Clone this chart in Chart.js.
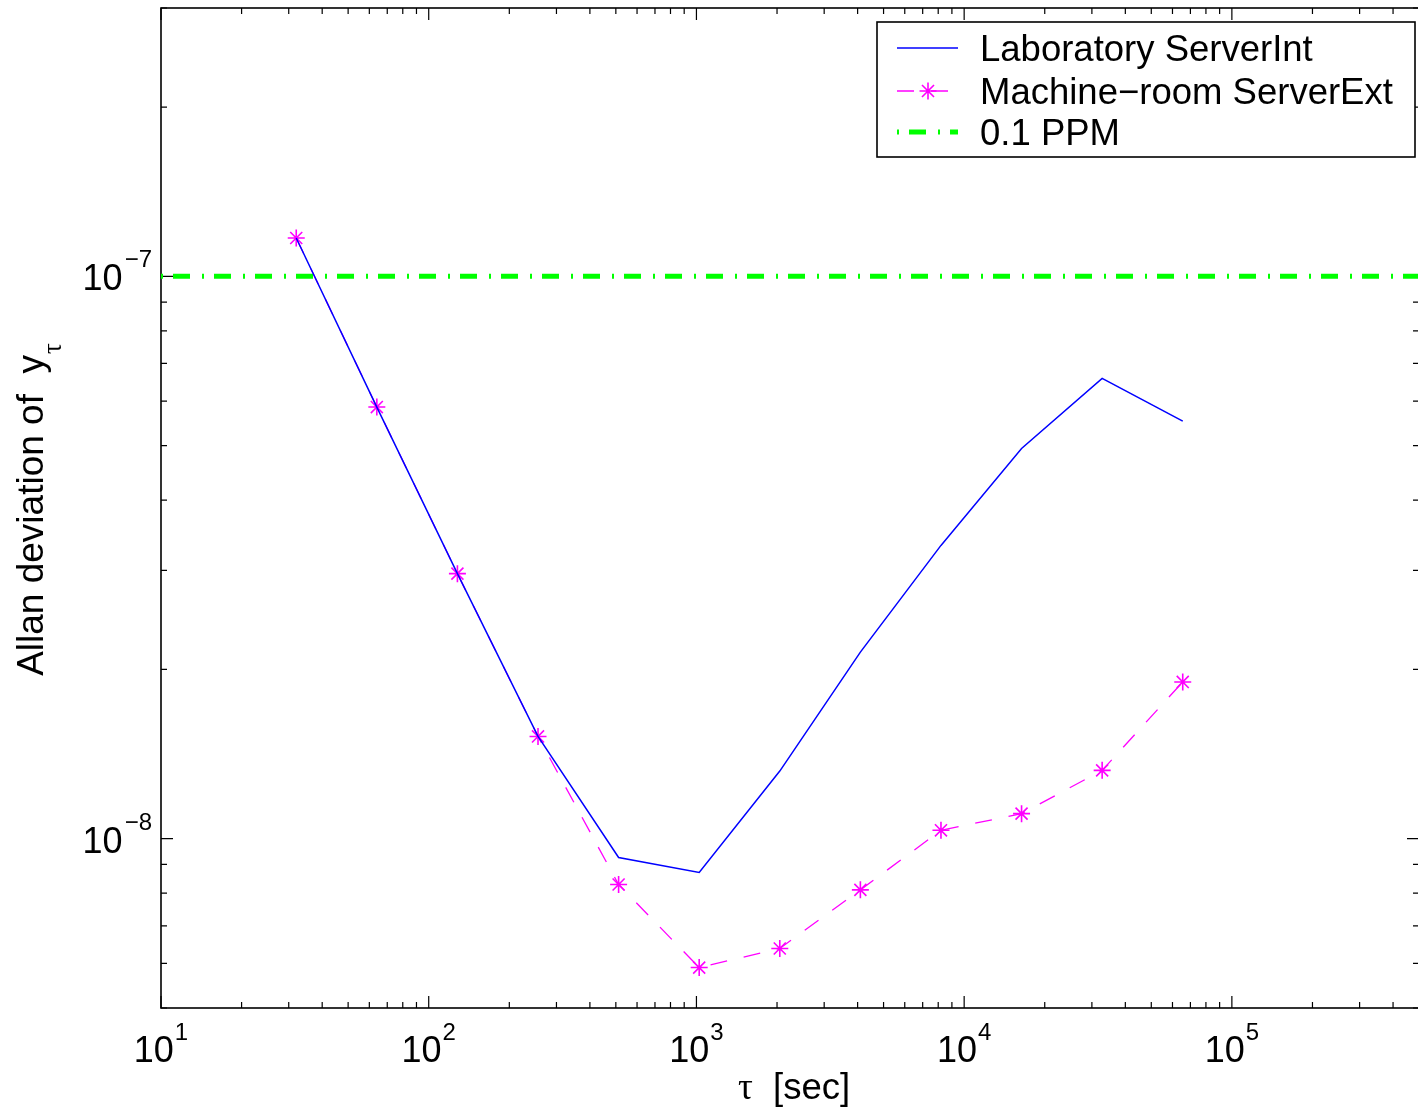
<!DOCTYPE html>
<html>
<head>
<meta charset="utf-8">
<script src="https://cdn.jsdelivr.net/npm/chart.js@4.4.0/dist/chart.umd.min.js"></script>
<style>
html,body{margin:0;padding:0;overflow:hidden;background:#fff;}
#wrap{width:1421px;height:1112px;}
</style>
</head>
<body>
<div id="wrap"><canvas id="c" width="1421" height="1112"></canvas></div>
<script>
// ---- data ----
const tau = [32, 64, 128, 256, 512, 1024, 2048, 4096, 8192, 16384, 32768, 65536];
const labServerInt = [1.170e-7, 5.855e-8, 2.960e-8, 1.520e-8, 9.26e-9, 8.71e-9, 1.319e-8, 2.147e-8, 3.323e-8, 4.943e-8, 6.585e-8, 5.529e-8];
const machineRoomServerExt = [1.170e-7, 5.855e-8, 2.960e-8, 1.520e-8, 8.29e-9, 5.90e-9, 6.38e-9, 8.11e-9, 1.035e-8, 1.108e-8, 1.323e-8, 1.900e-8];
const ppmTau = [10, 5e5];
const ppmLevel = [1e-7, 1e-7];
const seriesNames = ['Laboratory ServerInt', 'Machine\u2212room ServerExt', '0.1 PPM'];
const xRange = [10, 5e5];
const yRange = [5e-9, 3e-7];
const xTickExponents = [1, 2, 3, 4, 5];
const yTickExponents = [-8, -7];
const xTitleSymbol = '\u03C4';
const xTitleText = '  [sec]';
const yTitleText = 'Allan deviation of  y';
const yTitleSub = '\u03C4';

const SANS = '"Liberation Sans", Arial, Helvetica, sans-serif';
const SERIF = '"Liberation Serif", "Times New Roman", serif';

function minorTickValues(min, max) {
  const out = [];
  for (let d = Math.floor(Math.log10(min)); d <= Math.ceil(Math.log10(max)); d++) {
    for (let m = 1; m <= 9; m++) {
      const v = m * Math.pow(10, d);
      if (v >= min * 0.9999 && v <= max * 1.0001) out.push({v, major: m === 1});
    }
  }
  return out;
}

function expStr(e) { return e < 0 ? '\u2212' + Math.abs(e) : String(e); }

const matlabAxes = {
  id: 'matlabAxes',
  beforeDatasetsDraw(chart) {
    const {ctx, chartArea: a, scales: {x, y}} = chart;
    ctx.save();
    ctx.strokeStyle = '#000';
    ctx.lineWidth = 1.6;
    ctx.strokeRect(a.left, a.top, a.right - a.left, a.bottom - a.top);
    ctx.lineWidth = 1.2;
    ctx.beginPath();
    minorTickValues(x.min, x.max).forEach(t => {
      const px = x.getPixelForValue(t.v);
      const len = t.major ? 12 : 6;
      ctx.moveTo(px, a.bottom); ctx.lineTo(px, a.bottom - len);
      ctx.moveTo(px, a.top); ctx.lineTo(px, a.top + len);
    });
    minorTickValues(y.min, y.max).forEach(t => {
      const py = y.getPixelForValue(t.v);
      const len = t.major ? 12 : 6;
      ctx.moveTo(a.left, py); ctx.lineTo(a.left + len, py);
      ctx.moveTo(a.right, py); ctx.lineTo(a.right - len, py);
    });
    ctx.stroke();
    ctx.restore();
  },
  afterDraw(chart) {
    const {ctx, chartArea: a, scales: {x, y}} = chart;
    ctx.save();
    ctx.fillStyle = '#000';
    ctx.textBaseline = 'alphabetic';
    const baseFont = '36px ' + SANS;
    const supFont = '24px ' + SANS;
    // x tick labels
    xTickExponents.forEach(e => {
      const px = x.getPixelForValue(Math.pow(10, e));
      ctx.font = baseFont; const wb = ctx.measureText('10').width;
      ctx.font = supFont; const we = ctx.measureText(expStr(e)).width;
      const left = px - (wb + 1 + we) / 2;
      ctx.textAlign = 'left';
      ctx.font = baseFont; ctx.fillText('10', left, a.bottom + 54);
      ctx.font = supFont; ctx.fillText(expStr(e), left + wb + 1, a.bottom + 32);
    });
    // y tick labels
    yTickExponents.forEach(e => {
      const py = y.getPixelForValue(Math.pow(10, e));
      const right = a.left - 9;
      ctx.textAlign = 'right';
      ctx.font = supFont; const we = ctx.measureText(expStr(e)).width;
      ctx.fillText(expStr(e), right, py - 9);
      ctx.font = baseFont; ctx.fillText('10', right - we - 2, py + 14);
    });
    // x title
    ctx.textAlign = 'left';
    ctx.font = '37px ' + SERIF; const wt = ctx.measureText(xTitleSymbol).width;
    ctx.font = '36.5px ' + SANS; const ws = ctx.measureText(xTitleText).width;
    const cx = (a.left + a.right) / 2 + 4;
    let sx = cx - (wt + ws) / 2;
    ctx.font = '37px ' + SERIF; ctx.fillText(xTitleSymbol, sx, 1099);
    ctx.font = '36.5px ' + SANS; ctx.fillText(xTitleText, sx + wt, 1099);
    // y title (rotated)
    ctx.save();
    ctx.translate(43, 510);
    ctx.rotate(-Math.PI / 2);
    ctx.font = '37px ' + SANS; const w1 = ctx.measureText(yTitleText).width;
    ctx.font = '27px ' + SERIF; const w2 = ctx.measureText(yTitleSub).width;
    const st = -(w1 + w2) / 2;
    ctx.font = '37px ' + SANS; ctx.fillText(yTitleText, st, 0);
    ctx.font = '27px ' + SERIF; ctx.fillText(yTitleSub, st + w1 + 1, 18);
    ctx.restore();

    // legend
    const lx0 = 877, ly0 = 22, lx1 = 1415, ly1 = 157;
    ctx.fillStyle = '#fff';
    ctx.fillRect(lx0, ly0, lx1 - lx0, ly1 - ly0);
    ctx.strokeStyle = '#000'; ctx.lineWidth = 1.6;
    ctx.strokeRect(lx0, ly0, lx1 - lx0, ly1 - ly0);
    const rows = [48, 91, 132];
    chart.data.datasets.forEach((ds, i) => {
      const ry = rows[i];
      ctx.save();
      ctx.strokeStyle = ds.borderColor;
      ctx.lineWidth = ds.borderWidth;
      ctx.lineCap = 'butt';
      ctx.setLineDash(ds.borderDash || []);
      ctx.beginPath(); ctx.moveTo(897, ry); ctx.lineTo(958, ry); ctx.stroke();
      ctx.setLineDash([]);
      if (ds.pointRadius > 0) {
        const r = ds.pointRadius, c = 928;
        ctx.lineWidth = ds.pointBorderWidth;
        ctx.strokeStyle = ds.pointBorderColor;
        const d = r * Math.SQRT1_2;
        ctx.beginPath();
        ctx.moveTo(c - r, ry); ctx.lineTo(c + r, ry);
        ctx.moveTo(c, ry - r); ctx.lineTo(c, ry + r);
        ctx.moveTo(c - d, ry - d); ctx.lineTo(c + d, ry + d);
        ctx.moveTo(c - d, ry + d); ctx.lineTo(c + d, ry - d);
        ctx.stroke();
      }
      ctx.restore();
      ctx.fillStyle = '#000';
      ctx.font = '36.5px ' + SANS;
      ctx.textAlign = 'left';
      ctx.fillText(ds.label, 980, ry + 13);
    });
    ctx.restore();
  }
};

const toPts = (xs, ys) => xs.map((v, i) => ({x: v, y: ys[i]}));

new Chart(document.getElementById('c'), {
  type: 'line',
  data: {
    datasets: [
      {
        label: seriesNames[0],
        data: toPts(tau, labServerInt),
        borderColor: '#0000ff', borderWidth: 1.5,
        pointRadius: 0, fill: false, tension: 0
      },
      {
        label: seriesNames[1],
        data: toPts(tau, machineRoomServerExt),
        borderColor: '#ff00ff', borderWidth: 1.3, borderDash: [17, 17],
        pointStyle: 'star', pointRadius: 8.5, pointBorderWidth: 1.6,
        pointBorderColor: '#ff00ff', pointBackgroundColor: '#ff00ff',
        fill: false, tension: 0
      },
      {
        label: seriesNames[2],
        data: toPts(ppmTau, ppmLevel),
        borderColor: '#00ff00', borderWidth: 5, borderDash: [2, 10, 17, 12],
        pointRadius: 0, fill: false, tension: 0
      }
    ]
  },
  options: {
    responsive: false,
    animation: false,
    events: [],
    layout: {autoPadding: false, padding: {left: 161, top: 8, right: 2, bottom: 104}},
    plugins: {legend: {display: false}, tooltip: {enabled: false}, title: {display: false}},
    scales: {
      x: {
        type: 'logarithmic', min: xRange[0], max: xRange[1],
        grid: {display: false, drawTicks: false}, border: {display: false},
        ticks: {display: false}, title: {display: false}
      },
      y: {
        type: 'logarithmic', min: yRange[0], max: yRange[1],
        grid: {display: false, drawTicks: false}, border: {display: false},
        ticks: {display: false}, title: {display: false}
      }
    }
  },
  plugins: [matlabAxes]
});
</script>
</body>
</html>
